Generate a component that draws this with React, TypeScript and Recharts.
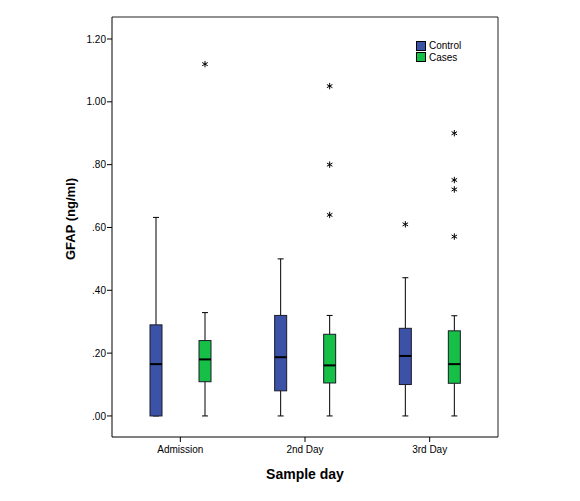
import React from 'react';
import { ComposedChart, Bar, XAxis, YAxis } from 'recharts';

const categories = ['Admission', '2nd Day', '3rd Day'];

const controlMin = [0, 0, 0];
const controlQ1 = [0, 0.08, 0.1];
const controlMedian = [0.165, 0.187, 0.191];
const controlQ3 = [0.29, 0.32, 0.279];
const controlMax = [0.632, 0.5, 0.44];
const controlOutliers = [[], [], [0.61]];

const casesMin = [0, 0, 0];
const casesQ1 = [0.109, 0.105, 0.104];
const casesMedian = [0.18, 0.161, 0.165];
const casesQ3 = [0.24, 0.26, 0.271];
const casesMax = [0.329, 0.32, 0.319];
const casesOutliers = [[1.12], [1.05, 0.8, 0.64], [0.9, 0.751, 0.721, 0.571]];

const yTicks = [0, 0.2, 0.4, 0.6, 0.8, 1.0, 1.2];

const CONTROL_COLOR = '#3c52a6';
const CASES_COLOR = '#16c046';
const FONT = '"Liberation Sans", Arial, Helvetica, sans-serif';

const data = categories.map((day, i) => ({
  day,
  control: [controlMin[i], controlMax[i]],
  controlStats: { min: controlMin[i], q1: controlQ1[i], med: controlMedian[i], q3: controlQ3[i], max: controlMax[i], out: controlOutliers[i] },
  cases: [casesMin[i], casesMax[i]],
  casesStats: { min: casesMin[i], q1: casesQ1[i], med: casesMedian[i], q3: casesQ3[i], max: casesMax[i], out: casesOutliers[i] },
}));

const Star = ({ cx, cy }: { cx: number; cy: number }) => {
  const r = 3.2;
  const a = r * Math.cos(Math.PI / 6);
  const b = r * Math.sin(Math.PI / 6);
  return (
    <g stroke="#000" strokeWidth={1}>
      <line x1={cx} y1={cy - r} x2={cx} y2={cy + r} />
      <line x1={cx - a} y1={cy - b} x2={cx + a} y2={cy + b} />
      <line x1={cx - a} y1={cy + b} x2={cx + a} y2={cy - b} />
    </g>
  );
};

const makeBox = (statsKey: string, fill: string) => (props: any) => {
  const { x, y, width, height, payload } = props;
  const s = payload[statsKey];
  const px = (v: number) => y + (height * (s.max - v)) / (s.max - s.min);
  const cx = x + width / 2;
  const cap = 3;
  const yQ1 = px(s.q1);
  const yQ3 = px(s.q3);
  return (
    <g>
      <line x1={cx} y1={px(s.max)} x2={cx} y2={yQ3} stroke="#000" strokeWidth={1} />
      <line x1={cx} y1={yQ1} x2={cx} y2={px(s.min)} stroke="#000" strokeWidth={1} />
      <line x1={cx - cap} y1={px(s.max)} x2={cx + cap} y2={px(s.max)} stroke="#000" strokeWidth={1} />
      <line x1={cx - cap} y1={px(s.min)} x2={cx + cap} y2={px(s.min)} stroke="#000" strokeWidth={1} />
      <rect x={x} y={yQ3} width={width} height={Math.max(yQ1 - yQ3, 0.5)} fill={fill} stroke="#1a1a2a" strokeWidth={1} />
      <line x1={x} y1={px(s.med)} x2={x + width} y2={px(s.med)} stroke="#000" strokeWidth={2} />
      {s.out.map((v: number, k: number) => (
        <Star key={k} cx={cx} cy={px(v)} />
      ))}
    </g>
  );
};

const yLabel = (props: any) => {
  const vb = props.viewBox;
  const x = vb.x + 18;
  const y = 211;
  return (
    <text x={x} y={y} transform={`rotate(-90, ${x}, ${y})`} textAnchor="middle" dominantBaseline="central"
      fontFamily={FONT} fontSize={13} fontWeight="bold" fill="#000">
      GFAP (ng/ml)
    </text>
  );
};

const xLabel = (props: any) => {
  const vb = props.viewBox;
  return (
    <text x={vb.x + vb.width / 2} y={vb.y + 37} textAnchor="middle" dominantBaseline="central"
      fontFamily={FONT} fontSize={14} fontWeight="bold" fill="#000">
      Sample day
    </text>
  );
};

const legendItems = [
  { name: 'Control', color: CONTROL_COLOR },
  { name: 'Cases', color: CASES_COLOR },
];

export default function App() {
  return (
    <div style={{ position: 'relative', width: 564, height: 485, background: '#fff' }}>
      <ComposedChart
        width={564}
        height={485}
        data={data}
        margin={{ top: 8, right: 73, bottom: 26, left: 44 }}
        barSize={12}
        barGap={37}
      >
        <XAxis
          dataKey="day"
          xAxisId={0}
          padding={{ left: 6, right: 6 }}
          height={30}
          tickSize={5}
          tickMargin={4}
          stroke="#000"
          tickLine={{ stroke: '#000' }}
          axisLine={{ stroke: '#000' }}
          tick={{ fill: '#000', fontSize: 10, fontFamily: FONT }}
          label={xLabel}
        />
        <XAxis
          dataKey="day"
          xAxisId="top"
          orientation="top"
          height={1}
          padding={{ left: 6, right: 6 }}
          tick={false}
          tickLine={false}
          stroke="#222"
          axisLine={{ stroke: '#222' }}
        />
        <YAxis
          yAxisId={0}
          domain={[-0.067, 1.27]}
          ticks={yTicks}
          allowDataOverflow
          width={60}
          tickSize={5}
          tickMargin={1}
          stroke="#000"
          tickLine={{ stroke: '#000' }}
          axisLine={{ stroke: '#000' }}
          tick={{ fill: '#000', fontSize: 10, fontFamily: FONT }}
          tickFormatter={(v: number) => v.toFixed(2).replace(/^0/, '')}
          label={yLabel}
        />
        <YAxis
          yAxisId="right"
          orientation="right"
          width={1}
          domain={[-0.067, 1.27]}
          allowDataOverflow
          tick={false}
          tickLine={false}
          stroke="#222"
          axisLine={{ stroke: '#222' }}
        />
        <Bar dataKey="control" name="Control" fill={CONTROL_COLOR} shape={makeBox('controlStats', CONTROL_COLOR)} isAnimationActive={false} />
        <Bar dataKey="cases" name="Cases" fill={CASES_COLOR} shape={makeBox('casesStats', CASES_COLOR)} isAnimationActive={false} />
      </ComposedChart>
      <div style={{ position: 'absolute', left: 408, top: 32, fontFamily: FONT, fontSize: 10, color: '#000' }}>
        {legendItems.map((it) => (
          <div key={it.name} style={{ display: 'flex', alignItems: 'center', height: 11.5 }}>
            <span style={{ display: 'inline-block', width: 8, height: 8, background: it.color, border: '1px solid #000', marginRight: 3 }} />
            <span>{it.name}</span>
          </div>
        ))}
      </div>
    </div>
  );
}
